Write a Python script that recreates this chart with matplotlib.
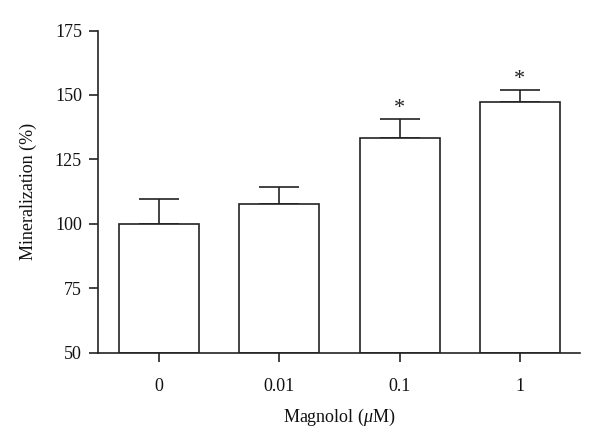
import matplotlib
matplotlib.use("Agg")
import matplotlib.pyplot as plt

categories = ["0", "0.01", "0.1", "1"]
values = [100.0, 107.8, 133.4, 147.4]
errors = [9.5, 6.6, 7.4, 4.7]
significant = [False, False, True, True]
yticks = [50, 75, 100, 125, 150, 175]

plt.rcParams['font.family'] = ['Liberation Serif', 'DejaVu Serif']
plt.rcParams['mathtext.fontset'] = 'custom'
plt.rcParams['mathtext.rm'] = 'Liberation Serif'
plt.rcParams['mathtext.it'] = 'Liberation Serif:italic'

lc = '#222222'
lw = 1.2
fig = plt.figure(figsize=(6.0, 4.46), dpi=100)
ax = fig.add_axes([0.1633, 0.2092, 0.8034, 0.7224])

x = list(range(len(categories)))
ax.bar(x, [v - 50 for v in values], bottom=50, width=0.665, color='white',
       edgecolor=lc, linewidth=lw, zorder=2)
ax.errorbar(x, values, yerr=[[0]*len(errors), errors], fmt='none', ecolor=lc,
            elinewidth=lw, capsize=14.4, capthick=lw, zorder=1)
for xi, v, e, s in zip(x, values, errors, significant):
    if s:
        ax.text(xi, v + e + 0.1, '*', ha='center', va='bottom', fontsize=16, color=lc)

ax.set_xlim(-0.507, 3.5)
ax.set_ylim(50, 175)
ax.set_yticks(yticks)
ax.set_xticks(x)
ax.set_xticklabels(categories)
for s in ['top', 'right']:
    ax.spines[s].set_visible(False)
for s in ['left', 'bottom']:
    ax.spines[s].set_linewidth(lw)
    ax.spines[s].set_color(lc)
ax.tick_params(axis='both', direction='out', length=6.5, width=lw, color=lc,
               labelsize=13, labelcolor='#111111', pad=5)
ax.tick_params(axis='x', pad=12)
ax.set_ylabel('Mineralization (%)', fontsize=13, color='#111111', labelpad=13)
ax.set_xlabel(r'Magnolol ($\mu$M)', fontsize=13, color='#111111', labelpad=8)

fig.savefig('out.png', dpi=100)
